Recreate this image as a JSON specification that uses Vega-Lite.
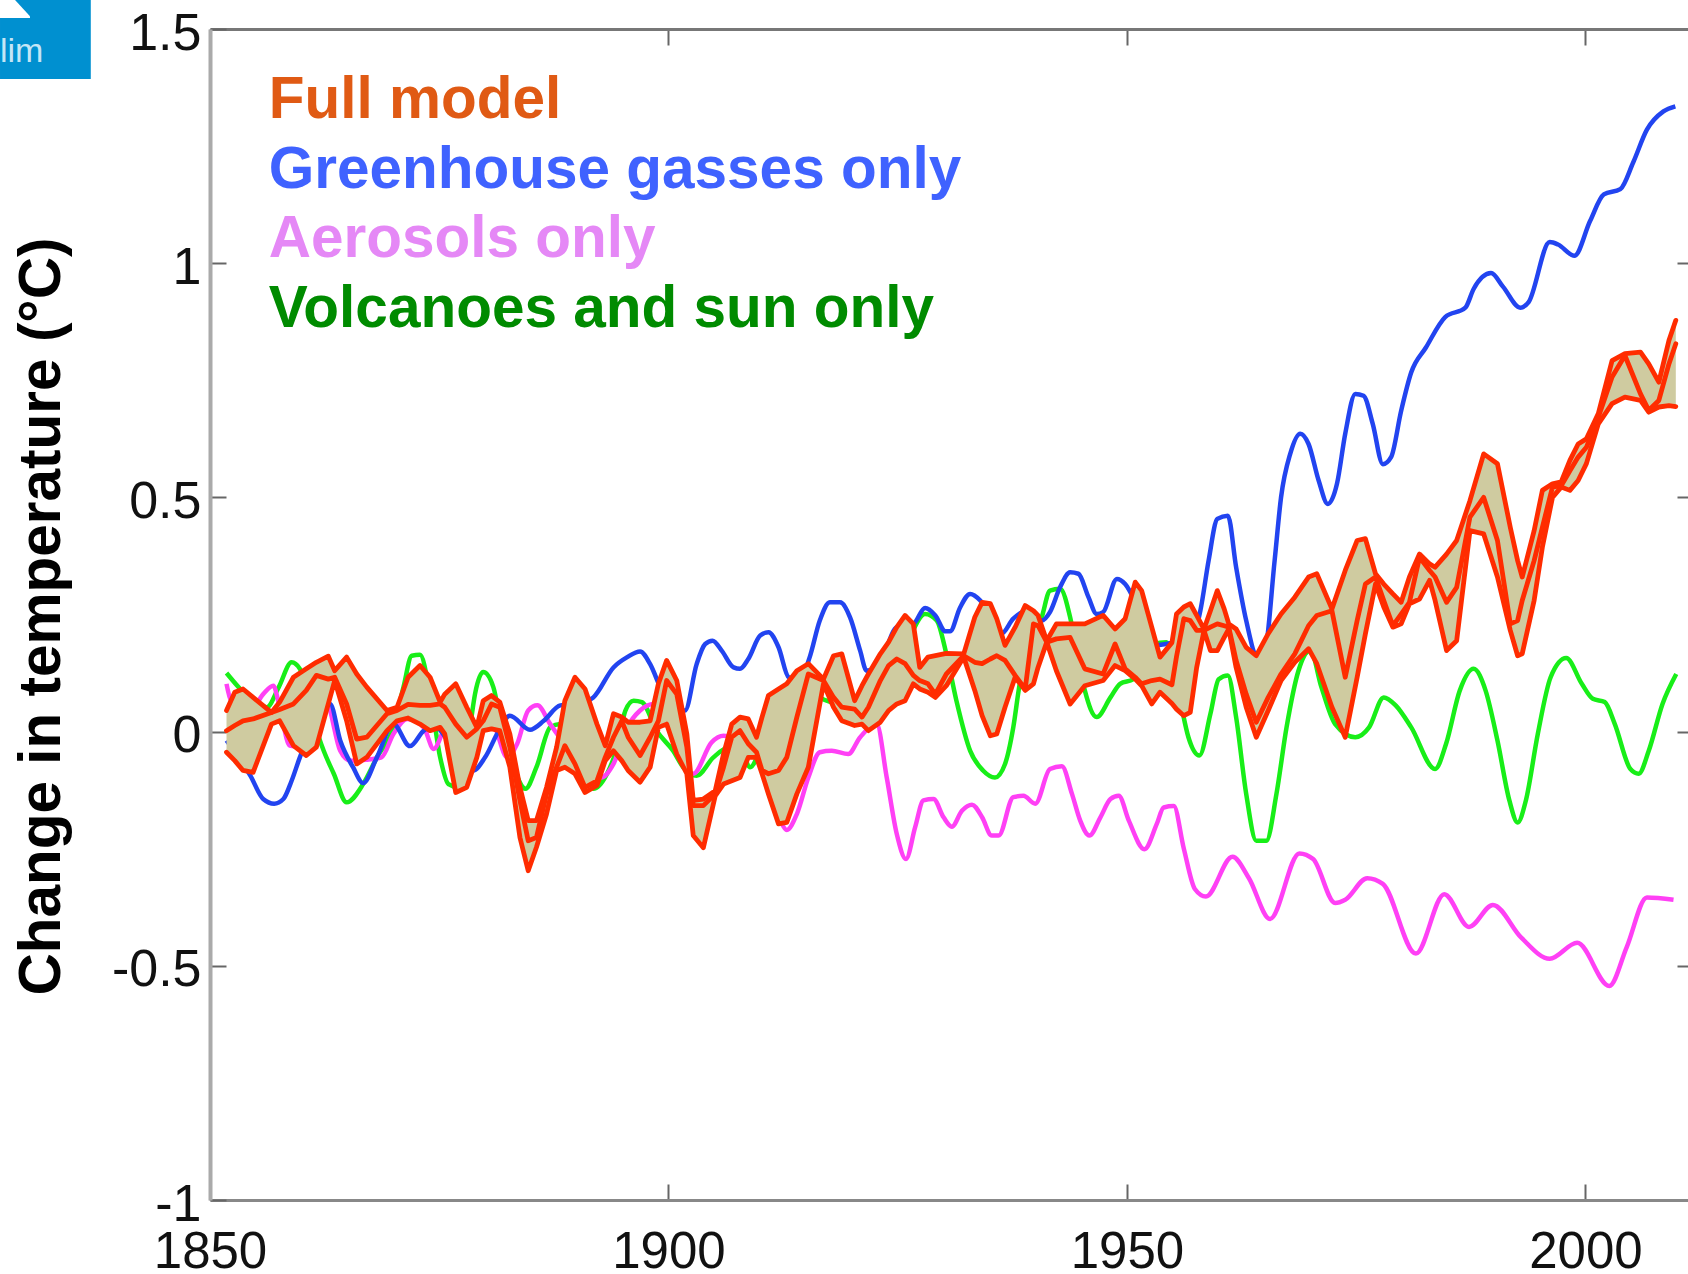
{"$schema":"https://vega.github.io/schema/vega-lite/v6.json","width":1478,"height":1171,"autosize":"none","padding":{"left":210,"top":29,"right":0,"bottom":74},"background":"white","config":{"view":{"stroke":null},"font":"Liberation Sans"},
"datasets":{
"volc":[[1851.8,0.125],[1853.1,0.095],[1854.9,0.059],[1856.2,0.052],[1857.5,0.095],[1858.9,0.148],[1859.8,0.134],[1861.3,0.023],[1862.4,-0.041],[1863.5,-0.09],[1864.9,-0.151],[1866.7,-0.112],[1868.2,-0.055],[1870,0.009],[1871.1,0.095],[1872,0.162],[1872.9,0.164],[1874,0.08],[1875.1,-0.055],[1876,-0.112],[1877.1,-0.119],[1878.4,0.016],[1878.9,0.08],[1879.8,0.127],[1880.9,0.095],[1881.8,0.009],[1883.1,-0.076],[1884.4,-0.122],[1885.6,-0.076],[1887.1,0.009],[1888.2,0.016],[1889.6,-0.033],[1891.8,-0.122],[1893.3,-0.09],[1894.4,-0.033],[1895.3,0.045],[1896.2,0.066],[1897.1,0.063],[1898.7,0.002],[1900.5,-0.041],[1901.6,-0.076],[1903.07,-0.094],[1904.9,-0.055],[1906.7,-0.033],[1907.8,-0.033],[1908.9,-0.076],[1910.7,-0.005],[1913.25,0.031],[1915.4,0.08],[1917.25,0.066],[1919.4,0.052],[1921.6,0.031],[1923.8,0.08],[1926,0.187],[1927.98,0.251],[1929.25,0.237],[1930.3,0.166],[1931.4,0.066],[1932.9,-0.041],[1934.3,-0.083],[1935.6,-0.098],[1936.7,-0.069],[1937.6,0.009],[1938.3,0.102],[1939.4,0.18],[1940.7,0.244],[1941.6,0.301],[1942.7,0.305],[1943.8,0.244],[1944.5,0.173],[1945.4,0.088],[1946.7,0.031],[1948.2,0.073],[1949.25,0.102],[1950.7,0.112],[1952.9,0.187],[1954.3,0.191],[1955.8,0.066],[1956.7,-0.012],[1957.9,-0.051],[1959.1,0.038],[1960,0.112],[1961,0.12],[1961.9,0.031],[1963,-0.133],[1964.1,-0.233],[1965.2,-0.233],[1966.3,-0.133],[1967.4,0.009],[1968.7,0.13],[1970,0.173],[1971.2,0.095],[1972.7,0.016],[1974.9,-0.012],[1976.4,0.009],[1978,0.073],[1979.3,0.056],[1981,0.009],[1983.6,-0.08],[1984.8,-0.026],[1986.3,0.088],[1987.8,0.134],[1989.1,0.088],[1990.4,-0.019],[1991.7,-0.147],[1992.6,-0.194],[1993.5,-0.147],[1994.8,-0.005],[1996.2,0.116],[1997.9,0.157],[1999.6,0.102],[2000.8,0.07],[2002.1,0.063],[2003.2,0.016],[2004.9,-0.08],[2005.8,-0.09],[2006.9,-0.041],[2008.4,0.059],[2009.9,0.123]],
"ghg":[[1851.8,-0.019],[1854.4,-0.094],[1855.8,-0.144],[1857,-0.154],[1858,-0.144],[1858.9,-0.105],[1859.8,-0.055],[1861.3,0.016],[1863.1,0.059],[1864.2,-0.019],[1865.6,-0.076],[1866.7,-0.11],[1868.2,-0.055],[1870,0.016],[1871.8,-0.031],[1873.3,0.002],[1874.4,0.013],[1876,-0.02],[1878.7,-0.083],[1880,-0.055],[1881.5,0.002],[1882.7,0.034],[1884.9,0.004],[1886.4,0.023],[1888.2,0.056],[1890,0.059],[1891.8,0.073],[1894,0.137],[1895.5,0.159],[1896.9,0.171],[1898,0.144],[1899.1,0.095],[1900.5,0.045],[1901.8,0.045],[1903.07,0.144],[1904,0.187],[1904.8,0.194],[1905.8,0.173],[1907.1,0.137],[1907.8,0.134],[1908.7,0.155],[1910,0.205],[1910.9,0.212],[1912,0.18],[1913.1,0.116],[1914.3,0.11],[1915.4,0.159],[1916.5,0.237],[1917.6,0.276],[1918.7,0.276],[1919.8,0.244],[1920.9,0.173],[1921.6,0.13],[1923,0.144],[1924.9,0.223],[1926.7,0.23],[1927.98,0.264],[1929.1,0.248],[1930.2,0.214],[1930.7,0.214],[1931.8,0.265],[1932.9,0.294],[1934,0.28],[1935.25,0.244],[1936.3,0.209],[1937.6,0.241],[1939.1,0.258],[1940.7,0.237],[1941.6,0.255],[1942.7,0.308],[1943.8,0.34],[1944.7,0.337],[1945.8,0.287],[1946.7,0.251],[1947.4,0.255],[1948.9,0.326],[1949.8,0.315],[1951,0.273],[1952.9,0.184],[1954.2,0.187],[1955.8,0.194],[1957.3,0.209],[1958,0.258],[1958.9,0.365],[1959.85,0.454],[1961,0.461],[1961.9,0.351],[1963,0.237],[1964.1,0.166],[1965,0.173],[1966.1,0.365],[1966.8,0.5],[1967.8,0.593],[1968.9,0.636],[1969.8,0.614],[1970.9,0.536],[1971.9,0.486],[1972.9,0.529],[1973.8,0.636],[1974.9,0.721],[1975.8,0.717],[1976.8,0.657],[1977.9,0.571],[1978.8,0.586],[1979.9,0.685],[1981,0.767],[1982.6,0.82],[1984.7,0.885],[1986.9,0.905],[1987.8,0.945],[1989.7,0.979],[1991,0.95],[1992.9,0.905],[1993.8,0.917],[1996.1,1.045],[1997,1.04],[1998.8,1.016],[2000.5,1.09],[2002,1.147],[2003.8,1.158],[2005.2,1.215],[2006.7,1.285],[2008.5,1.324],[2009.8,1.335]],
"aero":[[1851.8,0.102],[1852.3,0.066],[1854.4,0.045],[1855.8,0.08],[1856.9,0.098],[1857.6,0.052],[1858.7,-0.03],[1859.8,-0.033],[1862.7,0.059],[1864.2,-0.041],[1865.3,-0.062],[1867,-0.06],[1868.7,-0.055],[1870,-0.005],[1871.5,0.027],[1873.3,0.009],[1874.4,-0.037],[1875.8,0.009],[1877.5,0.01],[1879.1,0.009],[1880.9,0.009],[1882.4,-0.055],[1883.5,-0.026],[1884.7,0.045],[1885.7,0.056],[1887.1,0.016],[1888.9,-0.033],[1891.8,-0.09],[1892.7,-0.098],[1894,-0.069],[1895.5,0.009],[1896.9,0.045],[1898.4,0.059],[1900.2,0.016],[1902.7,-0.09],[1904.7,-0.023],[1906,-0.009],[1908.9,-0.033],[1910.7,-0.098],[1912.2,-0.19],[1912.9,-0.21],[1914,-0.176],[1915.25,-0.098],[1916.5,-0.044],[1917.8,-0.041],[1919.6,-0.048],[1920.9,-0.012],[1922.7,0.016],[1923.8,-0.098],[1924.9,-0.219],[1925.9,-0.272],[1926.9,-0.204],[1927.8,-0.147],[1928.9,-0.144],[1930,-0.183],[1930.9,-0.203],[1932,-0.169],[1933.1,-0.156],[1934.2,-0.183],[1935.25,-0.222],[1936,-0.222],[1937.6,-0.14],[1938.7,-0.137],[1940,-0.154],[1941.6,-0.08],[1942.9,-0.074],[1944,-0.133],[1944.9,-0.19],[1945.9,-0.222],[1947.1,-0.183],[1948.2,-0.144],[1949.1,-0.137],[1950.2,-0.19],[1951.9,-0.251],[1953.25,-0.197],[1954,-0.162],[1955.1,-0.159],[1956.2,-0.25],[1957.4,-0.336],[1958.6,-0.352],[1961.5,-0.267],[1963.3,-0.313],[1965.6,-0.4],[1968.8,-0.26],[1970.3,-0.272],[1972.7,-0.366],[1973.8,-0.359],[1976.2,-0.313],[1977.9,-0.325],[1981.5,-0.474],[1984.6,-0.347],[1987.3,-0.417],[1989.9,-0.37],[1993,-0.44],[1996.1,-0.485],[1999.1,-0.451],[2002.6,-0.543],[2004.5,-0.46],[2006.7,-0.354],[2009.6,-0.359]],
"full":[[1851.8,0.045,0.002,-0.044],[1852.7,0.084,0.013,-0.062],[1853.6,0.091,0.023,-0.083],[1854.7,0.073,0.027,-0.087],[1856.7,0.041,0.041,0.016],[1857.6,0.063,0.047,0.023],[1859.1,0.116,0.059,-0.03],[1860.5,0.134,0.088,-0.051],[1861.6,0.148,0.12,-0.033],[1862.9,0.161,0.112,0.059],[1863.6,0.13,0.116,0.109],[1864.9,0.159,0.059,0.023],[1866,0.123,-0.016,-0.069],[1867.1,0.095,-0.012,-0.055],[1869.3,0.045,0.038,0.002],[1870.4,0.052,0.045,0.023],[1871.6,0.116,0.058,0.029],[1872.9,0.141,0.056,0.016],[1874,0.116,0.056,0.002],[1875.1,0.063,0.059,0.009],[1875.6,0.08,0.052,-0.005],[1876.8,0.102,0.016,-0.13],[1878,0.052,-0.012,-0.119],[1879.1,0.009,0.006,-0.055],[1879.8,0.066,0.023,0.002],[1880.7,0.077,0.059,0.006],[1881.6,0.063,0.052,0.002],[1882.7,-0.005,-0.033,-0.076],[1883.8,-0.119,-0.147,-0.226],[1884.7,-0.19,-0.233,-0.297],[1885.6,-0.19,-0.226,-0.247],[1886.7,-0.119,-0.133,-0.176],[1887.8,-0.033,-0.076,-0.083],[1888.7,0.066,-0.03,-0.076],[1889.8,0.116,-0.069,-0.09],[1890.9,0.091,-0.119,-0.13],[1892.2,0.016,-0.105,-0.115],[1893.1,-0.03,-0.055,-0.062],[1894,0.038,-0.012,-0.041],[1894.9,0.031,0.023,-0.062],[1895.6,0.02,-0.012,-0.083],[1896.9,0.02,-0.051,-0.108],[1898,0.023,-0.012,-0.076],[1898.9,0.102,0.023,0.009],[1899.8,0.152,0.109,0.016],[1900.9,0.109,0.08,-0.048],[1902,-0.005,-0.033,-0.09],[1902.7,-0.147,-0.158,-0.222],[1903.8,-0.144,-0.158,-0.248],[1905.1,-0.126,-0.133,-0.137],[1906,-0.048,-0.076,-0.112],[1906.9,0.016,-0.012,-0.105],[1907.8,0.031,0.002,-0.098],[1908.7,0.027,-0.026,-0.055],[1909.6,-0.012,-0.044,-0.055],[1910.2,0.031,-0.083,-0.09],[1910.9,0.077,-0.09,-0.133],[1912,0.091,-0.083,-0.197],[1912.9,0.102,-0.055,-0.194],[1914,0.13,0.031,-0.133],[1915.25,0.145,0.123,-0.076],[1916.9,0.112,0.109,0.102],[1918,0.162,0.073,0.052],[1918.9,0.166,0.052,0.023],[1920.3,0.066,0.048,0.013],[1921.1,0.098,0.031,0.016],[1921.8,0.123,0.052,0.002],[1923.1,0.166,0.109,0.02],[1924,0.191,0.141,0.045],[1924.9,0.223,0.155,0.059],[1925.8,0.248,0.145,0.066],[1926.7,0.23,0.12,0.102],[1927.4,0.137,0.109,0.091],[1928.3,0.159,0.102,0.084],[1929.1,0.162,0.08,0.073],[1930.3,0.167,0.123,0.098],[1932.2,0.166,0.162,0.159],[1933.4,0.244,0.148,0.088],[1934.2,0.276,0.145,0.034],[1935.1,0.273,0.155,-0.009],[1935.8,0.241,0.162,-0.005],[1936.7,0.184,0.152,0.052],[1937.8,0.223,0.12,0.116],[1938.9,0.269,0.091,0.088],[1939.8,0.258,0.23,0.102],[1940.3,0.248,0.226,0.137],[1941.25,0.194,0.191,0.191],[1942.3,0.23,0.198,0.13],[1943.8,0.23,0.201,0.059],[1945.4,0.23,0.134,0.098],[1947.4,0.248,0.123,0.109],[1948.7,0.219,0.187,0.141],[1949.8,0.241,0.134,0.13],[1950.9,0.319,0.116,0.112],[1951.6,0.301,0.102,0.098],[1952.7,0.223,0.109,0.059],[1953.6,0.159,0.112,0.084],[1954.9,0.19,0.1,0.06],[1955.4,0.251,0.16,0.048],[1956.2,0.266,0.241,0.034],[1956.9,0.273,0.237,0.041],[1957.6,0.248,0.216,0.137],[1958.4,0.219,0.216,0.216],[1959.1,0.258,0.223,0.173],[1959.85,0.301,0.23,0.173],[1960.6,0.262,0.226,0.201],[1961.1,0.23,0.223,0.219],[1961.9,0.219,0.152,0.137],[1963,0.18,0.08,0.052],[1964.1,0.162,0.02,-0.012],[1965.4,0.209,0.073,0.045],[1966.8,0.251,0.123,0.109],[1968.3,0.287,0.166,0.148],[1969.8,0.33,0.226,0.177],[1970.7,0.337,0.248,0.145],[1972.35,0.262,0.258,0.052],[1973.8,0.344,0.116,-0.012],[1975.1,0.408,0.237,0.116],[1976,0.412,0.315,0.209],[1977.1,0.337,0.33,0.315],[1978,0.315,0.28,0.266],[1979,0.294,0.226,0.223],[1979.9,0.276,0.251,0.23],[1980.8,0.33,0.276,0.273],[1981.9,0.379,0.372,0.283],[1983,0.358,0.344,0.323],[1983.6,0.351,0.33,0.28],[1984.85,0.379,0.276,0.173],[1985.95,0.408,0.308,0.194],[1987.4,0.493,0.458,0.429],[1988.9,0.593,0.5,0.422],[1990.4,0.572,0.408,0.33],[1991.8,0.436,0.23,0.216],[1992.6,0.365,0.237,0.162],[1993.1,0.33,0.28,0.166],[1994.4,0.429,0.365,0.28],[1995.3,0.515,0.436,0.394],[1996.4,0.529,0.522,0.5],[1997.35,0.533,0.525,0.522],[1998.3,0.579,0.557,0.515],[1999.2,0.614,0.586,0.536],[2000.1,0.625,0.607,0.572],[2001.4,0.679,0.671,0.657],[2002.9,0.792,0.757,0.7],[2004.3,0.807,0.803,0.714],[2006,0.81,0.721,0.707],[2006.9,0.785,0.686,0.682],[2008,0.746,0.707,0.693],[2009.1,0.835,0.785,0.696],[2009.85,0.878,0.828,0.694]],
"key":[{"label":"Full model","year":1856.4,"t":1.31},{"label":"Greenhouse gasses only","year":1856.4,"t":1.1606},{"label":"Aerosols only","year":1856.4,"t":1.0132},{"label":"Volcanoes and sun only","year":1856.4,"t":0.864}],
"badge":[{"x":1827.1,"x2":1837,"y":1.5619,"y2":1.3933}],
"cloud":[{"x":1827.1,"hi":1.5619,"lo":1.5235},{"x":1828.74,"hi":1.5619,"lo":1.5235},{"x":1830.37,"hi":1.527,"lo":1.5235}],
"badgeText":[{"x":1827.1,"y":1.4295,"label":"lim"}]
},
"layer":[
{"data":{"name":"badge"},"mark":{"type":"rect","color":"#0090d0"},"encoding":{"x":{"field":"x","type":"quantitative","scale":{"domain":[1850,2011.18],"nice":false,"zero":false},"axis":null},"x2":{"field":"x2"},"y":{"field":"y","type":"quantitative","scale":{"domain":[-1,1.5],"nice":false,"zero":false},"axis":null},"y2":{"field":"y2"}}},
{"data":{"name":"cloud"},"mark":{"type":"area","color":"#ffffff"},"encoding":{"x":{"field":"x","type":"quantitative","axis":null},"y":{"field":"hi","type":"quantitative","axis":null},"y2":{"field":"lo"}}},
{"data":{"name":"badgeText"},"mark":{"type":"text","align":"left","baseline":"alphabetic","font":"Liberation Sans","fontSize":34,"color":"#c4e6f6"},"encoding":{"x":{"field":"x","type":"quantitative","axis":null},"y":{"field":"y","type":"quantitative","axis":null},"text":{"field":"label"}}},
{"data":{"name":"volc"},"mark":{"type":"line","color":"#18ee18","strokeWidth":4.5,"interpolate":"monotone","strokeJoin":"round"},"encoding":{
 "x":{"field":"0","type":"quantitative","axis":{"orient":"bottom","title":null,"values":[1850,1900,1950,2000],"format":"d","grid":false,"tickSize":-16,"tickColor":"#666","tickWidth":2,"domainColor":"#888","domainWidth":3,"labelFont":"Liberation Sans","labelFontSize":51,"labelColor":"#111","labelPadding":43,"labelBaseline":"top","labelFlush":false,"labelOverlap":false}},
 "y":{"field":"1","type":"quantitative","axis":{"orient":"left","values":[-1,-0.5,0,0.5,1,1.5],"labelExpr":"''+datum.value","grid":false,"tickSize":-16,"tickColor":"#666","tickWidth":2,"domainColor":"#aaa","domainWidth":4,"labelFont":"Liberation Sans","labelFontSize":52,"labelColor":"#111","labelPadding":25,"labelBaseline":"middle","labelOffset":4,"labelOverlap":false,"labelFlush":false,"title":"Change in temperature (°C)","titleFont":"Liberation Sans","titleFontSize":58.5,"titleFontWeight":"bold","titleColor":"#000","titleX":-151,"titleY":587,"titleBaseline":"alphabetic","titleAlign":"center"}}}},
{"data":{"name":"aero"},"mark":{"type":"line","color":"#ff40f5","strokeWidth":4.5,"interpolate":"monotone","strokeJoin":"round"},"encoding":{
 "x":{"field":"0","type":"quantitative","axis":{"orient":"top","title":null,"values":[1850,1900,1950,2000],"labels":false,"grid":false,"tickSize":-16,"tickColor":"#666","tickWidth":2,"domainColor":"#777","domainWidth":3}},
 "y":{"field":"1","type":"quantitative","axis":{"orient":"right","title":null,"values":[-0.5,0,0.5,1],"labels":false,"grid":false,"tickSize":-11,"tickColor":"#666","tickWidth":2,"domain":false}}}},
{"data":{"name":"ghg"},"mark":{"type":"line","color":"#2244f0","strokeWidth":4.5,"interpolate":"monotone","strokeJoin":"round"},"encoding":{"x":{"field":"0","type":"quantitative","axis":null},"y":{"field":"1","type":"quantitative","axis":null}}},
{"data":{"name":"full"},"mark":{"type":"area","color":"#cfcba0","stroke":null,"opacity":1},"encoding":{"x":{"field":"0","type":"quantitative","axis":null},"y":{"field":"1","type":"quantitative","axis":null},"y2":{"field":"3"}}},
{"data":{"name":"full"},"mark":{"type":"line","color":"#ff2c00","strokeWidth":4.8,"strokeJoin":"round","strokeCap":"round"},"encoding":{"x":{"field":"0","type":"quantitative","axis":null},"y":{"field":"1","type":"quantitative","axis":null}}},
{"data":{"name":"full"},"mark":{"type":"line","color":"#ff2c00","strokeWidth":4.8,"strokeJoin":"round","strokeCap":"round"},"encoding":{"x":{"field":"0","type":"quantitative","axis":null},"y":{"field":"2","type":"quantitative","axis":null}}},
{"data":{"name":"full"},"mark":{"type":"line","color":"#ff2c00","strokeWidth":4.8,"strokeJoin":"round","strokeCap":"round"},"encoding":{"x":{"field":"0","type":"quantitative","axis":null},"y":{"field":"3","type":"quantitative","axis":null}}},
{"data":{"name":"key"},"mark":{"type":"text","align":"left","baseline":"alphabetic","font":"Liberation Sans","fontWeight":"bold","fontSize":58.5},"encoding":{"x":{"field":"year","type":"quantitative","axis":null},"y":{"field":"t","type":"quantitative","axis":null},"text":{"field":"label"},"color":{"field":"label","type":"nominal","legend":null,"scale":{"domain":["Full model","Greenhouse gasses only","Aerosols only","Volcanoes and sun only"],"range":["#e05a14","#3f62ff","#e588f6","#008b00"]}}}}
],
"resolve":{"axis":{"x":"independent","y":"independent"}}}
